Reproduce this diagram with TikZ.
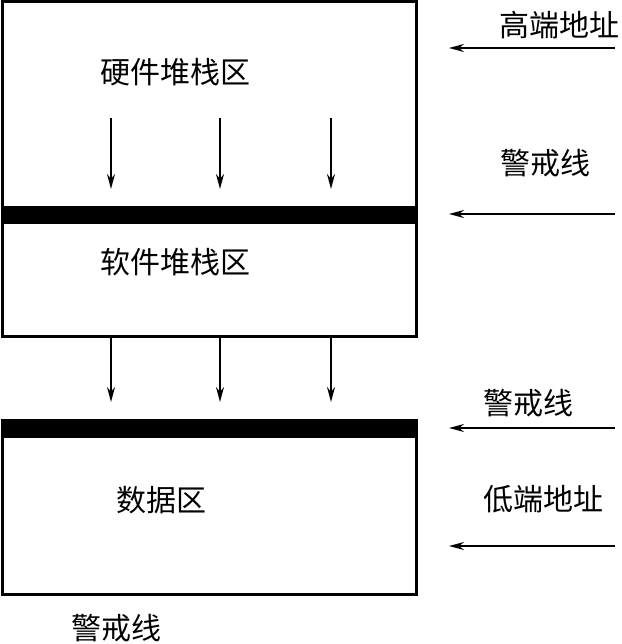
\documentclass[tikz,border=0pt]{standalone}
\usepackage{fontspec}
\newfontfamily\cjk{Noto Sans CJK SC}
\usetikzlibrary{arrows.meta}
\begin{document}
\begin{tikzpicture}[x=1pt,y=-1pt,
  lbl/.style={font=\cjk\fontsize{30}{32}\selectfont, inner sep=0pt},
  boxline/.style={line width=3pt},
  bar/.style={fill=black, draw=none},
  arr/.style={line width=1.6pt, -{Stealth[length=15pt,width=8pt]}}]
\useasboundingbox (0,0) rectangle (621,644);
% boxes
\draw[boxline] (2.5,1.5) rectangle (416,336);
\fill[bar] (1,206) rectangle (417.5,224);
\draw[boxline] (2.5,420) rectangle (416,594);
\fill[bar] (1,419) rectangle (417.5,438);
% labels in boxes
\node[lbl] (hw) at (175,72) {硬件堆栈区};
\node[lbl] (sw) at (175,262) {软件堆栈区};
\node[lbl] (data) at (161,500) {数据区};
\node[lbl] (warn3) at (116,628) {警戒线};
% right labels
\node[lbl] (high) at (559,25) {高端地址};
\node[lbl] (warn1) at (545,163) {警戒线};
\node[lbl] (warn2) at (528,403) {警戒线};
\node[lbl] (low) at (543,499) {低端地址};
% down arrows
\foreach \i/\x in {1/111,2/220,3/331}{
  \coordinate (a\i) at (\x,118);
  \coordinate (b\i) at (\x,189);
  \coordinate (c\i) at (\x,337);
  \coordinate (d\i) at (\x,402);
  \draw[arr] (a\i) -- (b\i);
  \draw[arr] (c\i) -- (d\i);
}
% right arrows
\foreach \i/\y in {1/48,2/214,3/428,4/546}{
  \coordinate (r\i) at (615,\y);
  \coordinate (l\i) at (449,\y);
  \draw[arr] (r\i) -- (l\i);
}
\end{tikzpicture}
\end{document}
